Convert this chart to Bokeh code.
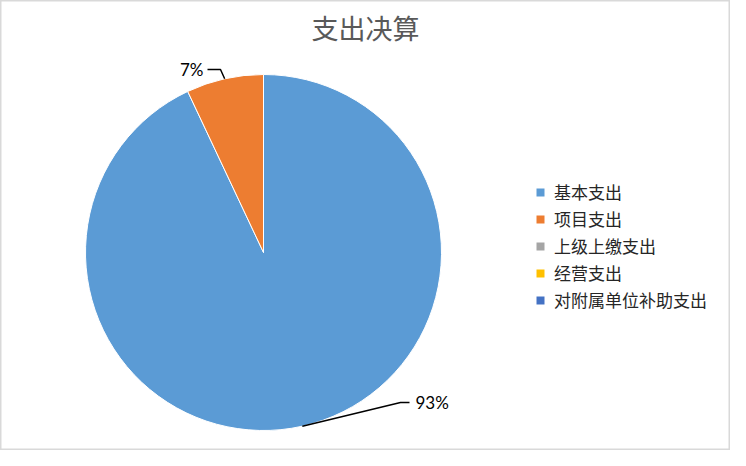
import math
from bokeh.plotting import figure
from bokeh.models import ColumnDataSource, Legend, LegendItem, Range1d
from bokeh.core.properties import value
from bokeh.embed import file_html
from bokeh.resources import INLINE

# ---- data ----
title_text = "支出决算"
categories = ["基本支出", "项目支出", "上级上缴支出", "经营支出", "对附属单位补助支出"]
values = [93, 7, 0, 0, 0]
colors = ["#5B9BD5", "#ED7D31", "#A5A5A5", "#FFC000", "#4472C4"]

# ---- layout constants ----
W, H = 730, 450
CX, CY, R = 263, 198, 178
# elbow/label placement per visible slice (offset of elbow from center)
label_layout = {
    0: dict(elbow=(137, -150), hlen=9, side="right"),
    1: dict(elbow=(-43, 183), hlen=-13, side="left"),
}

total = sum(values)
starts, ends, cum = [], [], 0.0
for v in values:
    frac0 = cum / total
    cum += v
    frac1 = cum / total
    starts.append(math.pi / 2 - 2 * math.pi * frac1)
    ends.append(math.pi / 2 - 2 * math.pi * frac0)

p = figure(width=W, height=H, output_backend="svg", toolbar_location=None,
           x_range=Range1d(0, W), y_range=Range1d(0, H), min_border=0)
p.axis.visible = False
p.grid.visible = False
p.outline_line_color = "#D9D9D9"
p.outline_line_width = 2
p.background_fill_color = "white"
p.border_fill_color = "white"

# pie slices
for i, v in enumerate(values):
    if v > 0:
        src = ColumnDataSource(dict(x=[CX], y=[CY], s=[starts[i]], e=[ends[i]]))
        p.wedge(x="x", y="y", radius=R, start_angle="s", end_angle="e",
                fill_color=colors[i], line_color="white", line_width=1, source=src)

# legend swatches (one per category, drawn off-range so only the legend shows them)
legend_renderers = []
for i, c in enumerate(categories):
    r = p.quad(left=[-20], right=[-19], bottom=[-20], top=[-19],
               fill_color=colors[i], line_color=None)
    legend_renderers.append(r)

# percent labels with leader lines
for i, v in enumerate(values):
    if v <= 0 or i not in label_layout:
        continue
    mid = (starts[i] + ends[i]) / 2
    ex, ey = CX + R * math.cos(mid), CY + R * math.sin(mid)
    lay = label_layout[i]
    bx, by = CX + lay["elbow"][0], CY + lay["elbow"][1]
    hx = bx + lay["hlen"]
    p.line([ex, bx, hx], [ey, by, by], line_color="black", line_width=1.5)
    pct = f"{round(100 * v / total)}%"
    if lay["side"] == "right":
        p.text([hx + 6], [by], text=[pct], text_align="left", text_baseline="middle",
               text_font=value("Lato"), text_font_size="17px", text_color="#000000")
    else:
        p.text([hx - 4], [by], text=[pct], text_align="right", text_baseline="middle",
               text_font=value("Lato"), text_font_size="17px", text_color="#000000")

# title
p.text([365], [423], text=[title_text], text_align="center", text_baseline="middle",
       text_font=value("Noto Sans CJK SC"), text_font_size="27px", text_color="#595959")

legend = Legend(items=[LegendItem(label=c, renderers=[r]) for c, r in zip(categories, legend_renderers)],
                location=(535, 138))
legend.border_line_color = None
legend.background_fill_alpha = 0
legend.padding = 0
legend.margin = 0
legend.glyph_width = 10
legend.glyph_height = 10
legend.label_standoff = 9
legend.label_height = 25
legend.spacing = 2
legend.label_text_font = "Noto Sans CJK SC"
legend.label_text_font_size = "17px"
legend.label_text_color = "#262626"
p.add_layout(legend)

open("out.html", "w").write(file_html(p, INLINE))
